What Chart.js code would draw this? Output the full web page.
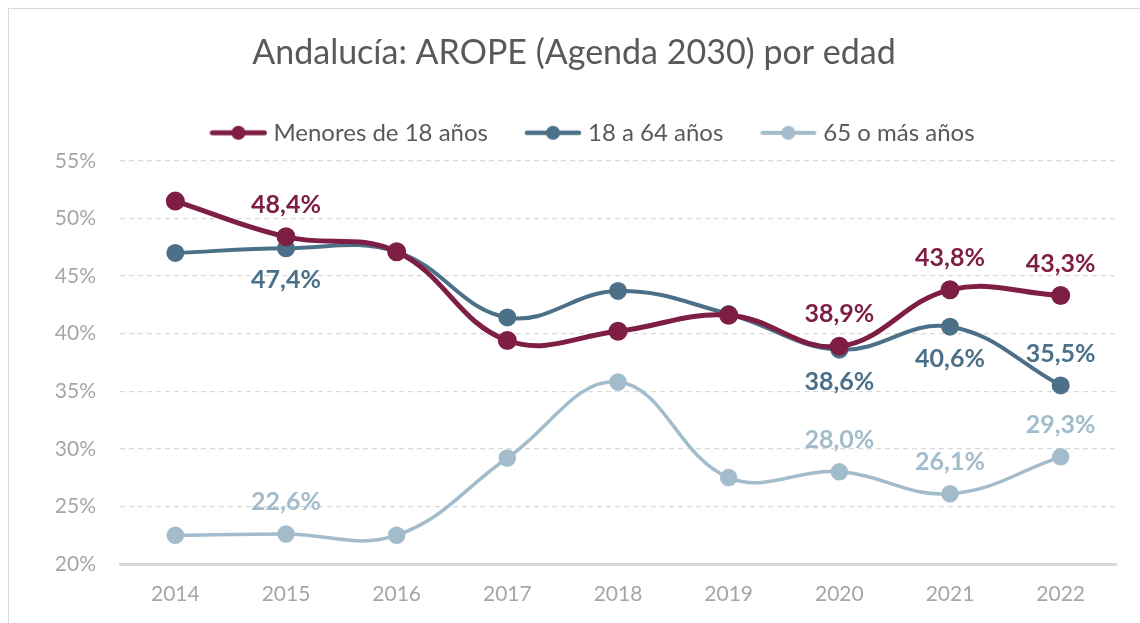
<!DOCTYPE html>
<html>
<head>
<meta charset="utf-8">
<script src="https://cdn.jsdelivr.net/npm/chart.js@4.4.0/dist/chart.umd.min.js"></script>
<style>
  html, body { margin: 0; padding: 0; background: #fff; overflow: hidden; }
  .frame {
    position: absolute; left: 8px; top: 8px;
    width: 1160px; height: 640px;
    border: 1.5px solid #d9d9d9;
  }
  .wrap { position: absolute; left: 0; top: 0; width: 1140px; height: 623px; }
</style>
</head>
<body>
<div class="frame"></div>
<div class="wrap"><canvas id="arope"></canvas></div>
<script>
const FONT = "Lato, 'Open Sans', sans-serif";

const years = ['2014', '2015', '2016', '2017', '2018', '2019', '2020', '2021', '2022'];
const menores = [51.5, 48.4, 47.1, 39.4, 40.2, 41.6, 38.9, 43.8, 43.3];
const adultos = [47.0, 47.4, 47.1, 41.4, 43.7, 41.7, 38.6, 40.6, 35.5];
const mayores = [22.5, 22.6, 22.5, 29.2, 35.8, 27.5, 28.0, 26.1, 29.3];
const yTicks = [20, 25, 30, 35, 40, 45, 50, 55];

// which points get a value label, and where ('up' / 'down')
const menoresLabels = [null, 'up', null, null, null, null, 'up', 'up', 'up'];
const adultosLabels = [null, 'down', null, null, null, null, 'down', 'down', 'up'];
const mayoresLabels = [null, 'up', null, null, null, null, 'up', 'up', 'up'];

const colMenores = '#7e1e45';
const colAdultos = '#4b7088';
const colMayores = '#a3bccb';

function legendMark(color, lw) {
  const c = document.createElement('canvas');
  c.width = 58; c.height = 18;
  const g = c.getContext('2d');
  g.strokeStyle = color;
  g.lineWidth = lw;
  g.lineCap = 'round';
  g.beginPath(); g.moveTo(3, 9); g.lineTo(55, 9); g.stroke();
  g.fillStyle = color;
  g.beginPath(); g.arc(29, 9, 7, 0, Math.PI * 2); g.fill();
  return c;
}

const valueLabels = {
  id: 'valueLabels',
  afterLayout(chart) {
    // Excel centres title and legend on the whole frame, a bit more to the right
    const tb = chart.titleBlock;
    tb.left += 16; tb.right += 16;
    const lg = chart.legend;
    lg.left += 37; lg.right += 37;
    lg.top -= 6; lg.bottom -= 6;
  },
  afterDatasetsDraw(chart) {
    const ctx = chart.ctx;
    ctx.save();
    ctx.font = "bold 25px " + FONT;
    ctx.textAlign = 'center';
    ctx.textBaseline = 'middle';
    chart.data.datasets.forEach((ds, i) => {
      const meta = chart.getDatasetMeta(i);
      ds.valueLabels.forEach((pos, j) => {
        if (!pos) return;
        const pt = meta.data[j];
        const dy = pos === 'up' ? -32 : 32;
        ctx.fillStyle = ds.borderColor;
        ctx.fillText(ds.data[j].toFixed(1).replace('.', ',') + '%', pt.x, pt.y + dy);
      });
    });
    ctx.restore();
  }
};

new Chart(document.getElementById('arope'), {
  type: 'line',
  data: {
    labels: years,
    datasets: [
      {
        label: 'Menores de 18 años',
        data: menores,
        valueLabels: menoresLabels,
        legendImg: legendMark(colMenores, 5),
        borderColor: colMenores,
        backgroundColor: colMenores,
        borderWidth: 5,
        pointRadius: 7,
        pointHoverRadius: 7
      },
      {
        label: '18 a 64 años',
        data: adultos,
        valueLabels: adultosLabels,
        legendImg: legendMark(colAdultos, 4.5),
        borderColor: colAdultos,
        backgroundColor: colAdultos,
        borderWidth: 4,
        pointRadius: 7,
        pointHoverRadius: 7
      },
      {
        label: '65 o más años',
        data: mayores,
        valueLabels: mayoresLabels,
        legendImg: legendMark(colMayores, 4),
        borderColor: colMayores,
        backgroundColor: colMayores,
        borderWidth: 3.5,
        pointRadius: 7,
        pointHoverRadius: 7
      }
    ]
  },
  options: {
    responsive: true,
    maintainAspectRatio: false,
    animation: false,
    elements: {
      line: { tension: 0.4 },
      point: { pointStyle: 'circle' }
    },
    layout: { padding: { top: 33, right: 24, left: 0, bottom: 0 } },
    plugins: {
      title: {
        display: true,
        text: 'Andalucía: AROPE (Agenda 2030) por edad',
        color: '#595959',
        font: { family: FONT, size: 34, weight: 'normal' },
        padding: { top: 0, bottom: 11 }
      },
      legend: {
        position: 'top',
        labels: {
          color: '#595959',
          font: { family: FONT, size: 24 },
          usePointStyle: true,
          pointStyleWidth: 46,
          padding: 42,
          generateLabels(chart) {
            return chart.data.datasets.map((ds, i) => ({
              text: ds.label,
              pointStyle: ds.legendImg,
              fontColor: '#595959',
              strokeStyle: 'transparent',
              fillStyle: 'transparent',
              lineWidth: 0,
              datasetIndex: i
            }));
          }
        }
      },
      tooltip: { enabled: false }
    },
    scales: {
      x: {
        offset: true,
        grid: { display: false, drawTicks: false },
        border: { display: true, color: '#d9d9d9', width: 3 },
        ticks: { color: '#a6a6a6', font: { family: FONT, size: 21 }, padding: 18 },
        afterFit(axis) { axis.height = 59; }
      },
      y: {
        min: 20,
        max: 55,
        afterBuildTicks(axis) { axis.ticks = yTicks.map(v => ({ value: v })); },
        grid: { color: '#d9d9d9', lineWidth: 1.2, drawTicks: false },
        border: { display: false, dash: [5, 4] },
        ticks: {
          color: '#a6a6a6',
          font: { family: FONT, size: 21 },
          padding: 24,
          callback: v => v + '%'
        },
        afterFit(axis) { axis.width = 120; }
      }
    }
  },
  plugins: [valueLabels]
});
</script>
</body>
</html>
